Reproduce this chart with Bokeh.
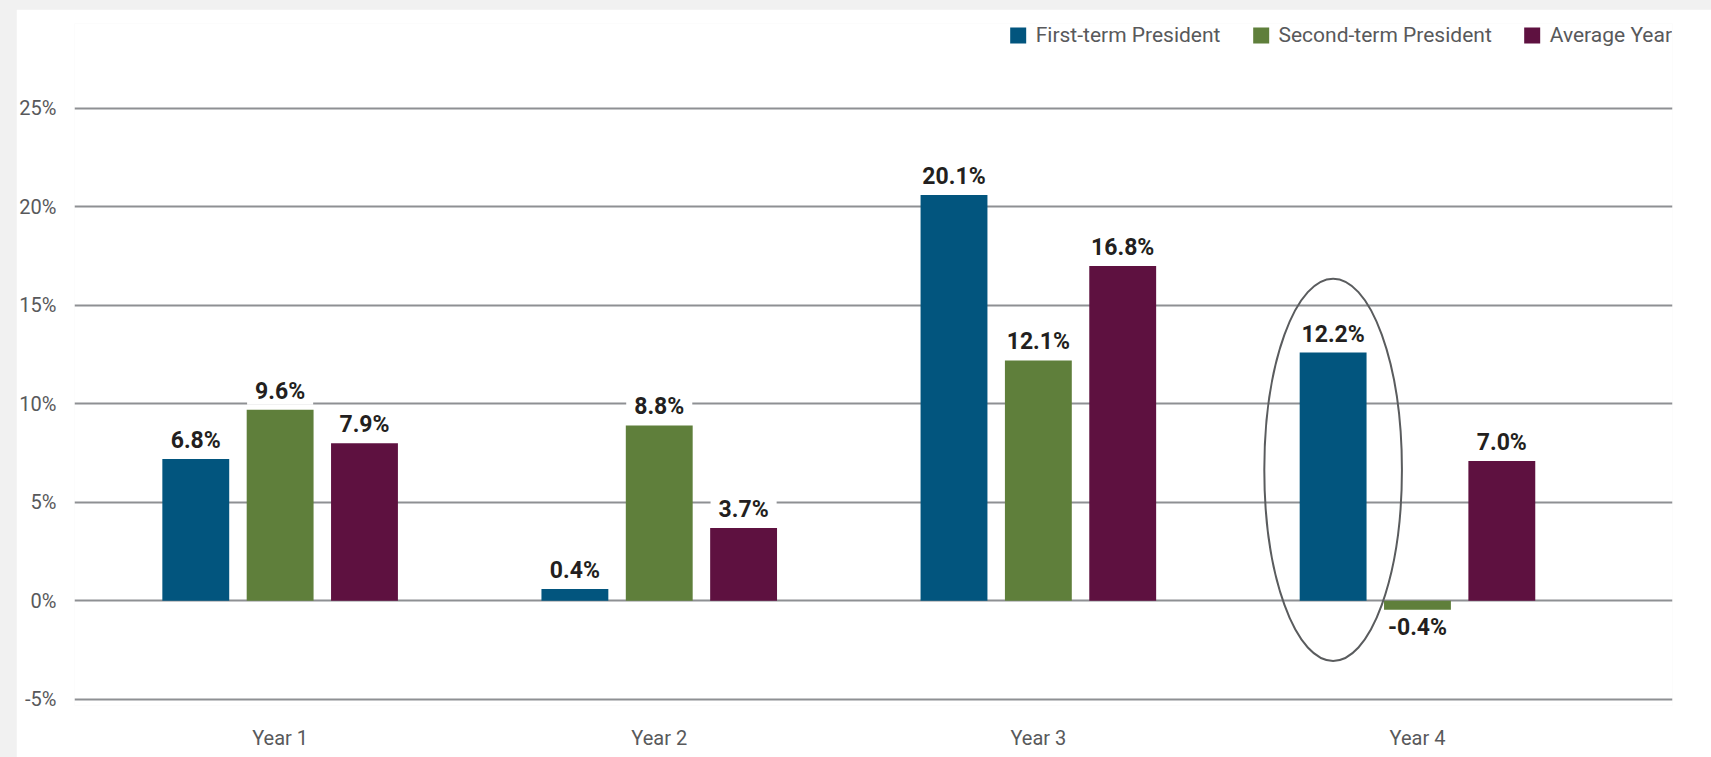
from bokeh.plotting import figure
from bokeh.models import (ColumnDataSource, Range1d, FixedTicker, Legend, LegendItem,
                          GlobalInlineStyleSheet)
from bokeh.core.properties import value
from bokeh.embed import file_html
from bokeh.resources import INLINE

# ---------------- data ----------------
years = ["Year 1", "Year 2", "Year 3", "Year 4"]
series_names = ["First-term President", "Second-term President", "Average Year"]
first_term = [7.2, 0.6, 20.6, 12.6]
second_term = [9.7, 8.9, 12.2, -0.45]
average_year = [8.0, 3.7, 17.0, 7.1]
first_labels = ["6.8%", "0.4%", "20.1%", "12.2%"]
second_labels = ["9.6%", "8.8%", "12.1%", "-0.4%"]
average_labels = ["7.9%", "3.7%", "16.8%", "7.0%"]
y_ticks = [-5, 0, 5, 10, 15, 20, 25]
y_tick_labels = ["-5%", "0%", "5%", "10%", "15%", "20%", "25%"]
highlight = ("Year 4", "First-term President")

# ---------------- style ----------------
colors = ["#02557E", "#5F7F3B", "#5E1140"]
FONT_NAME = "Roboto"
FONT = value(FONT_NAME)
GRID = "#8e9093"
TXT = "#58595b"
group_offsets = [-0.2225, 0.0, 0.2225]
bar_w = 0.1764

p = figure(width=1695, height=748, output_backend="svg", toolbar_location=None,
           x_range=Range1d(-0.0424, 4.1727), y_range=Range1d(-5.315, 29.305),
           min_border_left=55, min_border_right=39, min_border_top=14, min_border_bottom=52)
p.stylesheets = [GlobalInlineStyleSheet(
    css="html,body{background:#f1f1f1;} body{margin:9px 0 0 16px;overflow:hidden;}")]
p.outline_line_color = None
p.background_fill_color = "white"
p.border_fill_color = "white"

p.xgrid.grid_line_color = None
p.ygrid.ticker = FixedTicker(ticks=y_ticks)
p.ygrid.grid_line_color = GRID
p.ygrid.grid_line_width = 2

x_ticks = [i + 0.5 for i in range(len(years))]
p.xaxis.ticker = FixedTicker(ticks=x_ticks)
p.xaxis.major_label_overrides = {float(t): lab for t, lab in zip(x_ticks, years)}
p.yaxis.ticker = FixedTicker(ticks=y_ticks)
p.yaxis.major_label_overrides = {t: lab for t, lab in zip(y_ticks, y_tick_labels)}
for ax in (p.xaxis, p.yaxis):
    ax.axis_line_color = None
    ax.major_tick_line_color = None
    ax.minor_tick_line_color = None
    ax.major_label_text_font = FONT_NAME
    ax.major_label_text_font_size = "20px"
    ax.major_label_text_color = TXT
p.yaxis.major_label_standoff = 12
p.xaxis.major_label_standoff = 14

all_values = [first_term, second_term, average_year]
all_labels = [first_labels, second_labels, average_labels]

# value labels (drawn first so bars sit above their white boxes)
pos = dict(x=[], y=[], text=[])
neg = dict(x=[], y=[], text=[])
for k, (vals, labs) in enumerate(zip(all_values, all_labels)):
    for i, (v, lab) in enumerate(zip(vals, labs)):
        d = pos if v >= 0 else neg
        d["x"].append(i + 0.5 + group_offsets[k])
        d["y"].append(v)
        d["text"].append(lab)

label_style = dict(text_font=FONT, text_font_style="bold", text_font_size="23px",
                   text_color="#231f20", text_align="center",
                   background_fill_color="white",
                   padding=dict(left=8, right=8, top=0, bottom=0))
p.text(x="x", y="y", text="text", source=ColumnDataSource(pos),
       text_baseline="bottom", y_offset=-5, **label_style)
p.text(x="x", y="y", text="text", source=ColumnDataSource(neg),
       text_baseline="top", y_offset=4, **label_style)

renderers = []
for k, vals in enumerate(all_values):
    xs = [i + 0.5 + group_offsets[k] for i in range(len(years))]
    src = ColumnDataSource(dict(x=xs, top=vals))
    r = p.vbar(x="x", top="top", bottom=0, width=bar_w, source=src,
               fill_color=colors[k], line_color=None)
    renderers.append(r)

# highlight ellipse around Year 4 first-term bar
hi = years.index(highlight[0])
hk = series_names.index(highlight[1])
hv = all_values[hk][hi]
ell_top = hv + 3.75
ell_bottom = -3.05
p.ellipse(x=[hi + 0.5 + group_offsets[hk]], y=[(ell_top + ell_bottom) / 2],
          width=0.363, height=ell_top - ell_bottom,
          fill_color=None, line_color="#5a5c5e", line_width=2)

legend = Legend(items=[LegendItem(label=n, renderers=[r]) for n, r in zip(series_names, renderers)],
                orientation="horizontal", location="top_right", margin=0, padding=0,
                spacing=30, label_standoff=8, glyph_width=20, glyph_height=20,
                label_text_font=FONT_NAME, label_text_font_size="21px", label_text_color=TXT,
                border_line_color=None, background_fill_alpha=0)
p.add_layout(legend)

open("out.html", "w").write(file_html(p, INLINE))
